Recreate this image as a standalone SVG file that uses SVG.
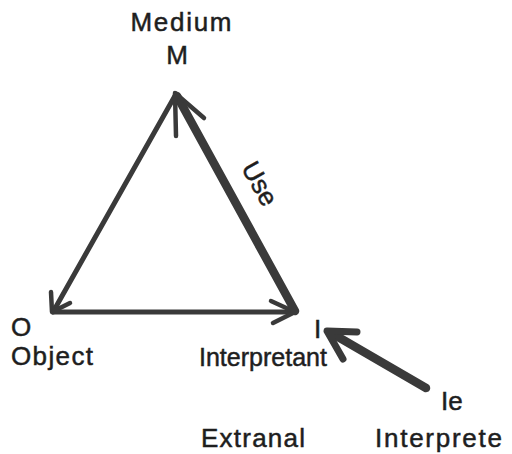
<svg xmlns="http://www.w3.org/2000/svg" width="512" height="454" viewBox="0 0 512 454">
<style>
.lbl{font-family:"Liberation Sans",Arial,sans-serif;font-size:26px;fill:#1e1e1e;stroke:#1e1e1e;stroke-width:0.5px}
.ln{stroke:#3a3a3a;fill:none;stroke-linecap:round;stroke-linejoin:round}
.thin{stroke-width:5}
.thick{stroke-width:8.5}
.barb{stroke-width:4.5}
</style>
<rect width="512" height="454" fill="#fff"/>
<g id="connectors">
<line class="ln thin" x1="176" y1="94" x2="53" y2="312"/>
<polyline class="ln barb" points="51,292 52,312 70,303"/>
<line class="ln thin" x1="53" y1="312" x2="295" y2="312"/>
<polyline class="ln barb" points="271,301 295,312 273,323"/>
<line class="ln thick" x1="295" y1="311" x2="177" y2="96"/>
<polyline class="ln barb" points="176,136 175,93 204,118"/>
<line class="ln thick" x1="426" y1="388" x2="333" y2="334"/>
<polyline class="ln barb" points="357,332 327,331 343,359" style="stroke-width:7"/>
</g>
<g id="node-medium">
<text class="lbl" x="181" y="31" text-anchor="middle" font-size="24" textLength="101" lengthAdjust="spacing">Medium</text>
<text class="lbl" x="177" y="64" text-anchor="middle" font-size="25">M</text>
</g>
<g id="node-object">
<text class="lbl" x="11" y="336">O</text>
<text class="lbl" x="11" y="365" textLength="82" lengthAdjust="spacing">Object</text>
</g>
<g id="node-interpretant">
<text class="lbl" x="314" y="338" font-size="25">I</text>
<text class="lbl" x="199" y="366" textLength="128" lengthAdjust="spacingAndGlyphs">Interpretant</text>
</g>
<g id="node-external">
<text class="lbl" x="441" y="410">Ie</text>
<text class="lbl" x="201" y="447" textLength="104" lengthAdjust="spacing">Extranal</text>
<text class="lbl" x="375" y="447" textLength="127" lengthAdjust="spacing">Interprete</text>
</g>
<g id="label-use">
<text class="lbl" font-size="23" text-anchor="middle" transform="translate(259,184) rotate(61)" y="8">Use</text>
</g>
</svg>
